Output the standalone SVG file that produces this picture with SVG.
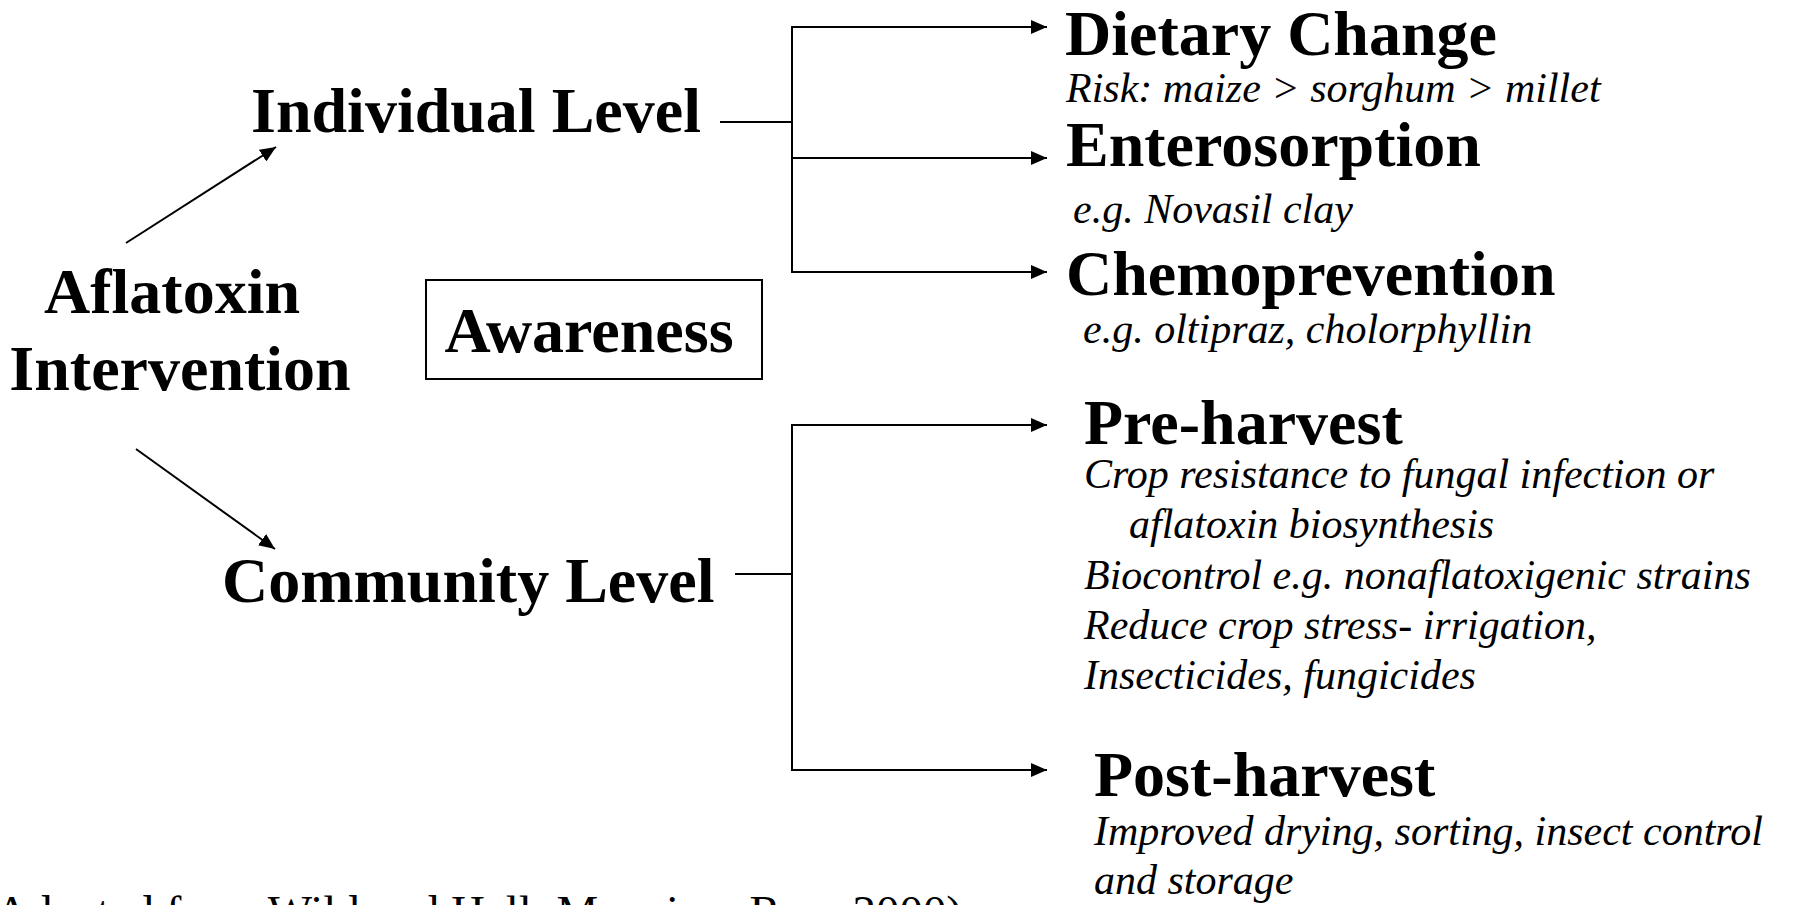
<svg xmlns="http://www.w3.org/2000/svg" width="1794" height="905" viewBox="0 0 1794 905">
<defs>
<marker id="ah" markerUnits="userSpaceOnUse" markerWidth="16" markerHeight="14" refX="16" refY="7" orient="auto">
<path d="M0,0 L16,7 L0,14 z" fill="#000"/>
</marker>
<style>
.h{font-family:"Liberation Serif","Times New Roman",serif;font-weight:bold;font-size:64px;fill:#000}
.i{font-family:"Liberation Serif","Times New Roman",serif;font-style:italic;font-size:42px;fill:#000}
.f{font-family:"Liberation Serif","Times New Roman",serif;font-size:46px;fill:#000}
.c{stroke:#000;stroke-width:2;fill:none}
.a{stroke:#000;stroke-width:2;fill:none;marker-end:url(#ah)}
</style>
</defs>
<rect width="1794" height="905" fill="#fff"/>
<g id="connectors">
<line class="a" x1="126" y1="243" x2="276" y2="147"/>
<line class="a" x1="136" y1="449" x2="275" y2="549"/>
<line class="c" x1="720" y1="122" x2="792" y2="122"/>
<line class="c" x1="792" y1="27" x2="792" y2="273"/>
<line class="a" x1="791" y1="27" x2="1047" y2="27"/>
<line class="a" x1="791" y1="158" x2="1047" y2="158"/>
<line class="a" x1="791" y1="272" x2="1047" y2="272"/>
<line class="c" x1="735" y1="574" x2="792" y2="574"/>
<line class="c" x1="792" y1="425" x2="792" y2="771"/>
<line class="a" x1="791" y1="425" x2="1047" y2="425"/>
<line class="a" x1="791" y1="770" x2="1047" y2="770"/>
</g>
<g id="aflatoxin">
<text class="h" x="172" y="313" text-anchor="middle">Aflatoxin</text>
<text class="h" x="180" y="390" text-anchor="middle">Intervention</text>
</g>
<g id="individual"><text class="h" x="251" y="132">Individual Level</text></g>
<g id="community"><text class="h" x="222" y="602">Community Level</text></g>
<g id="awareness">
<rect x="426" y="280" width="336" height="99" fill="none" stroke="#000" stroke-width="2"/>
<text class="h" x="589" y="352" text-anchor="middle">Awareness</text>
</g>
<g id="dietary">
<text class="h" x="1065" y="55">Dietary Change</text>
<text class="i" x="1066" y="102">Risk: maize &gt; sorghum &gt; millet</text>
</g>
<g id="enterosorption">
<text class="h" x="1066" y="166">Enterosorption</text>
<text class="i" x="1073" y="223">e.g. Novasil clay</text>
</g>
<g id="chemoprevention">
<text class="h" x="1066" y="295">Chemoprevention</text>
<text class="i" x="1083" y="343">e.g. oltipraz, cholorphyllin</text>
</g>
<g id="preharvest">
<text class="h" x="1084" y="444">Pre-harvest</text>
<text class="i" x="1084" y="488">Crop resistance to fungal infection or</text>
<text class="i" x="1129" y="538">aflatoxin biosynthesis</text>
<text class="i" x="1084" y="589">Biocontrol e.g. nonaflatoxigenic strains</text>
<text class="i" x="1084" y="639">Reduce crop stress- irrigation,</text>
<text class="i" x="1084" y="689">Insecticides, fungicides</text>
</g>
<g id="postharvest">
<text class="h" x="1094" y="796">Post-harvest</text>
<text class="i" x="1094" y="845">Improved drying, sorting, insect control</text>
<text class="i" x="1094" y="894">and storage</text>
</g>
<g id="footer">
<text class="f" x="-5" y="928" textLength="967" lengthAdjust="spacingAndGlyphs">Adapted from Wild and Hall; Mannion, Ross 2000)</text>
</g>
</svg>
